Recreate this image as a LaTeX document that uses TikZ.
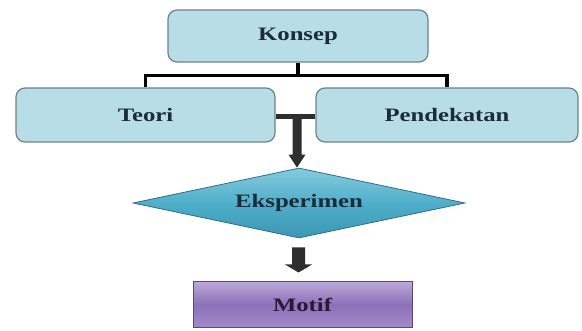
\documentclass[tikz,border=0pt]{standalone}
\usepackage{fontspec}
\usepackage{graphicx}
\setmainfont{Liberation Serif}
\usetikzlibrary{shapes.geometric,calc}
\definecolor{boxfill}{HTML}{B7DDE6}
\definecolor{boxline}{HTML}{6F8288}
\definecolor{txtblue}{HTML}{1B2B38}
\definecolor{txtpurple}{HTML}{2A1838}
\definecolor{blkarrow}{HTML}{2E2E2E}
\definecolor{dtop}{HTML}{86CBDE}
\definecolor{dmid}{HTML}{4FAFCA}
\definecolor{dbot}{HTML}{3A97B5}
\definecolor{dline}{HTML}{2C7088}
\definecolor{mtop}{HTML}{BBA8D8}
\definecolor{mmid}{HTML}{8C70B8}
\definecolor{mbot}{HTML}{A48BCB}
\definecolor{mline}{HTML}{5A4678}
\newcommand{\dlabel}[1]{\scalebox{1.3}[1]{\bfseries #1}}
\tikzset{
  bluebox/.style={draw=boxline, line width=1.2pt, fill=boxfill, rounded corners=9pt,
    inner sep=0pt, text=txtblue, font=\fontsize{19}{22}\selectfont},
  conn/.style={line width=3.5pt, draw=black},
  blockarrow/.style={fill=blkarrow, draw=none},
}
\begin{document}
\begin{tikzpicture}[x=1pt,y=-1pt]
\useasboundingbox (0,0) rectangle (582,331);
\node[bluebox, minimum width=260pt, minimum height=52pt] (konsep) at (298,36) {\dlabel{Konsep}};
\node[bluebox, minimum width=259pt, minimum height=54pt] (teori) at (145.5,115) {\dlabel{Teori}};
\node[bluebox, minimum width=262pt, minimum height=54pt] (pendekatan) at (447,115) {\dlabel{Pendekatan}};
\node[diamond, aspect=4.74, minimum width=332pt, minimum height=70pt, inner sep=0pt,
  draw=dline, line width=0.8pt, top color=dtop, bottom color=dbot, middle color=dmid,
  text=txtblue, font=\fontsize{19}{22}\selectfont]
  (eks) at (299,203) {\dlabel{Eksperimen}};
\node[draw=mline, line width=1pt, minimum width=219pt, minimum height=46pt, inner sep=0pt,
  top color=mtop, bottom color=mbot, middle color=mmid,
  text=txtpurple, font=\fontsize{19}{22}\selectfont] (motif) at (302.5,305) {\dlabel{Motif}};
% tree connector
\draw[conn] (konsep.south) -- ++(0,13) coordinate (k1);
\draw[conn] (teori.north) |- (k1) -| (pendekatan.north);
% bar between Teori and Pendekatan
\draw[line width=5pt, draw=blkarrow] ($(teori.east)+(0,2)$) -- ($(pendekatan.west)+(0,2)$) coordinate[pos=0.5] (bar);
% block arrow 1
\coordinate (a1) at ($(bar)+(1.5,0)$);
\coordinate (a1t) at (a1 |- eks.north);
\fill[blockarrow] ($(a1)+(-4.5,0)$) -- ($(a1t)+(-4.5,-13)$) -- ($(a1t)+(-8.5,-13)$) -- (a1t)
  -- ($(a1t)+(8.5,-13)$) -- ($(a1t)+(4.5,-13)$) -- ($(a1)+(4.5,0)$) -- cycle;
% block arrow 2
\coordinate (b2) at ($(motif.north)+(-4,-9)$);
\coordinate (b1) at ($(eks.south)+(0,9)$);
\coordinate (b1) at (b1 -| b2);
\fill[blockarrow] ($(b1)+(-6.5,0)$) -- ($(b2)+(-6.5,-8)$) -- ($(b2)+(-13.5,-8)$) -- (b2)
  -- ($(b2)+(13.5,-8)$) -- ($(b2)+(6.5,-8)$) -- ($(b1)+(6.5,0)$) -- cycle;
\end{tikzpicture}
\end{document}
